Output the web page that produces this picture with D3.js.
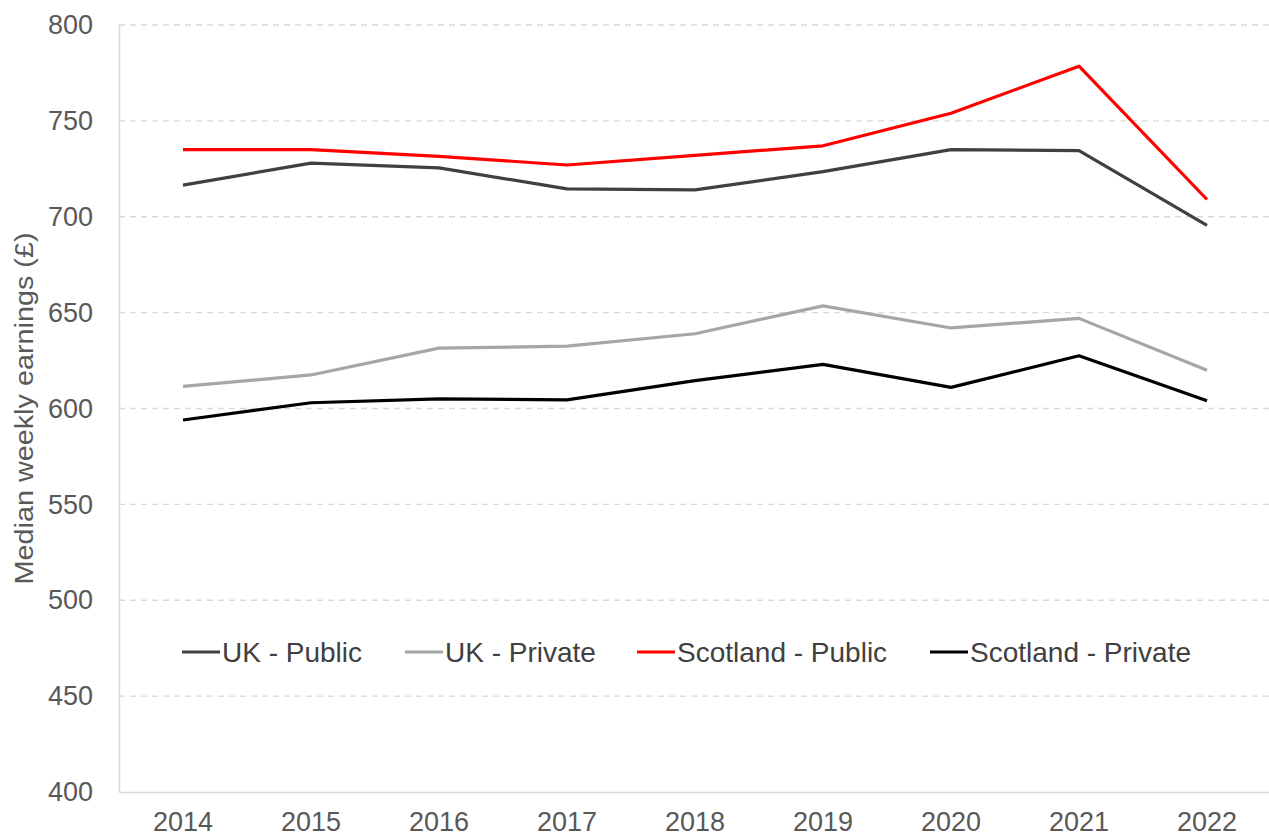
<!DOCTYPE html>
<html>
<head>
<meta charset="utf-8">
<script src="https://cdn.jsdelivr.net/npm/d3@7"></script>
<style>
  body { margin: 0; background: #fff; }
  svg { font-family: "Liberation Sans", Arial, sans-serif; }
</style>
</head>
<body>
<div id="chart"></div>
<script>
const years = ["2014", "2015", "2016", "2017", "2018", "2019", "2020", "2021", "2022"];
const ukPublic = [716.5, 728, 725.5, 714.5, 714, 723.5, 735, 734.5, 695.5];
const ukPrivate = [611.5, 617.5, 631.5, 632.5, 639, 653.5, 642, 647, 620];
const scotPublic = [735, 735, 731.5, 727, 732, 737, 754, 778.5, 709];
const scotPrivate = [594, 603, 605, 604.5, 614.5, 623, 611, 627.5, 604];
const yTicks = [400, 450, 500, 550, 600, 650, 700, 750, 800];

const series = [
  { name: "UK - Public", values: ukPublic, color: "#404040" },
  { name: "UK - Private", values: ukPrivate, color: "#a6a6a6" },
  { name: "Scotland - Public", values: scotPublic, color: "#ff0000" },
  { name: "Scotland - Private", values: scotPrivate, color: "#000000" },
];

const width = 1269, height = 836;
const margin = { top: 25, right: 0, bottom: 44, left: 119 };

const svg = d3.select("#chart").append("svg")
  .attr("width", width)
  .attr("height", height);

const x = d3.scaleBand().domain(years).range([margin.left, 1271]);
const y = d3.scaleLinear().domain([400, 800]).range([height - margin.bottom, margin.top]);

// gridlines
svg.append("g")
  .selectAll("line")
  .data(yTicks.filter((t) => t > 400))
  .join("line")
  .attr("x1", margin.left)
  .attr("x2", width)
  .attr("y1", (d) => y(d))
  .attr("y2", (d) => y(d))
  .attr("stroke", "#d9d9d9")
  .attr("stroke-width", 1.3)
  .attr("stroke-dasharray", "6,5");

// y axis
const yAxis = svg.append("g")
  .attr("transform", `translate(${margin.left},0)`)
  .call(d3.axisLeft(y).tickValues(yTicks).tickSize(0).tickPadding(26));
yAxis.select(".domain").attr("stroke", "#d9d9d9").attr("stroke-width", 1.5);
yAxis.selectAll("text").attr("fill", "#595959").style("font-size", "27px");

// x axis
const xAxis = svg.append("g")
  .attr("transform", `translate(0,${height - margin.bottom})`)
  .call(d3.axisBottom(x).tickSize(0).tickPadding(20));
xAxis.select(".domain").attr("stroke", "#d9d9d9").attr("stroke-width", 1.5);
xAxis.selectAll("text").attr("fill", "#595959").style("font-size", "27px");

// y title
svg.append("text")
  .attr("transform", `translate(24,${(y(400) + y(800)) / 2}) rotate(-90)`)
  .attr("text-anchor", "middle")
  .attr("dy", "0.35em")
  .attr("fill", "#595959")
  .style("font-size", "26px")
  .attr("textLength", 352)
  .attr("lengthAdjust", "spacingAndGlyphs")
  .text("Median weekly earnings (£)");

// lines
const line = d3.line()
  .x((d, i) => x(years[i]) + x.bandwidth() / 2)
  .y((d) => y(d));

svg.append("g")
  .selectAll("path")
  .data(series)
  .join("path")
  .attr("fill", "none")
  .attr("stroke", (d) => d.color)
  .attr("stroke-width", 3.2)
  .attr("stroke-linejoin", "round")
  .attr("d", (d) => line(d.values));

// legend
const legendX = [182, 405, 637, 930];
const legend = svg.append("g").attr("transform", "translate(0,652)");
series.forEach((s, i) => {
  legend.append("line")
    .attr("x1", legendX[i])
    .attr("x2", legendX[i] + 38)
    .attr("stroke", s.color)
    .attr("stroke-width", 3.2);
  legend.append("text")
    .attr("x", legendX[i] + 40)
    .attr("dy", "0.35em")
    .attr("fill", "#404040")
    .style("font-size", "28px")
    .text(s.name);
});
</script>
</body>
</html>
